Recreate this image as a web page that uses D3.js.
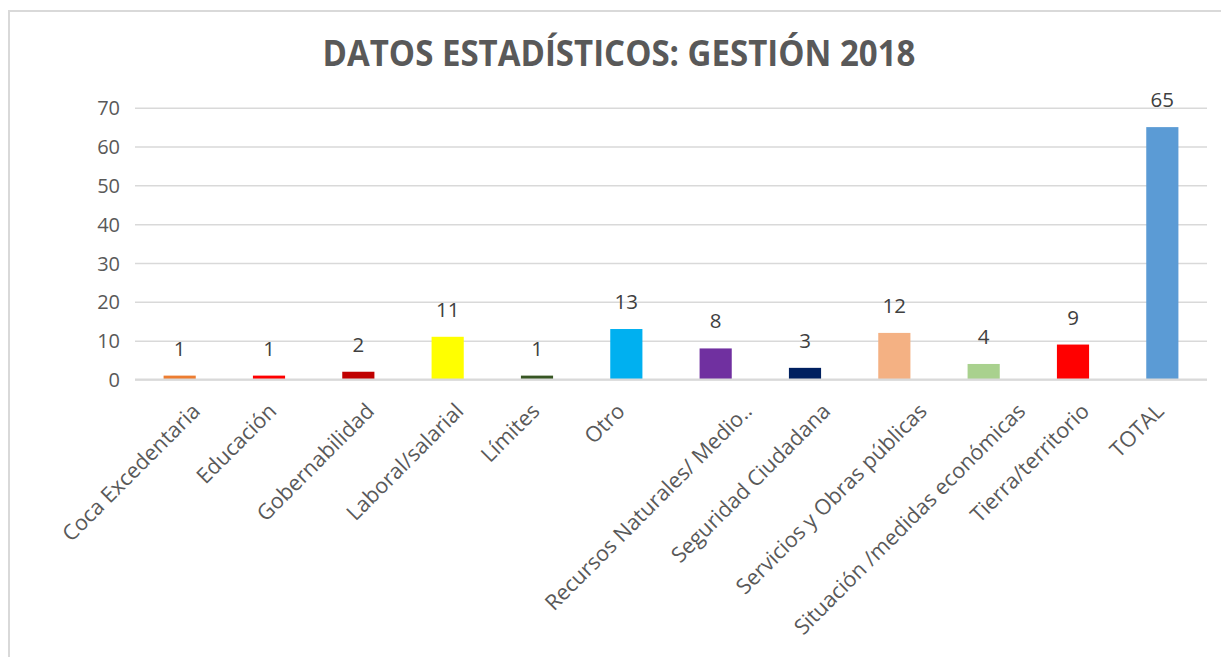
<!DOCTYPE html>
<html><head><meta charset="utf-8">
<script src="https://cdn.jsdelivr.net/npm/d3@7"></script>
<style>
html,body{margin:0;padding:0;background:#fff;}
svg{display:block;}
</style></head>
<body>
<svg id="chart" width="1221" height="657"></svg>
<script>
const categories = ["Coca Excedentaria","Educación","Gobernabilidad","Laboral/salarial","Límites","Otro","Recursos Naturales/ Medio..","Seguridad Ciudadana","Servicios y Obras públicas","Situación /medidas económicas","Tierra/territorio","TOTAL"];
const values = [1,1,2,11,1,13,8,3,12,4,9,65];
const barColors = ["#ED7D31","#FF0000","#C00000","#FFFF00","#375623","#00B0F0","#7030A0","#002060","#F4B183","#A9D18E","#FF0000","#5B9BD5"];
const yTicks = [0,10,20,30,40,50,60,70];
const titleText = "DATOS ESTADÍSTICOS: GESTIÓN 2018";

const svg = d3.select("#chart");
const font = "'Open Sans', sans-serif";

// frame
svg.append("path").attr("d","M9,657 L9,11 L1221,11")
  .attr("fill","none").attr("stroke","#d9d9d9").attr("stroke-width",2);

// title
svg.append("text").attr("x",619).attr("y",66).attr("text-anchor","middle")
  .attr("font-family",font).attr("font-weight","bold").attr("font-size",35)
  .attr("fill","#595959").attr("textLength",593).attr("lengthAdjust","spacingAndGlyphs")
  .text(titleText);

const x = d3.scaleBand().domain(categories).range([135,1207]).paddingInner(0.64).paddingOuter(0.32);
const y = d3.scaleLinear().domain([0,70]).range([379.5,107.7]);

// gridlines
const grid = svg.append("g")
  .call(d3.axisLeft(y).tickValues(yTicks).tickSize(-(1207-135)).tickFormat(""))
  .attr("transform","translate(135,0)");
grid.select(".domain").remove();
grid.selectAll("line").attr("stroke","#d9d9d9").attr("stroke-width",1.5);

// y labels
const yAxis = svg.append("g").attr("transform","translate(120,0)")
  .call(d3.axisLeft(y).tickValues(yTicks).tickSize(0).tickPadding(0));
yAxis.select(".domain").remove();
yAxis.selectAll("text").attr("font-family",font).attr("font-size",20).attr("fill","#595959").attr("dy","0.35em");

// bars
svg.append("g").selectAll("rect").data(values).join("rect")
  .attr("x",(d,i)=>x(categories[i]))
  .attr("width",x.bandwidth())
  .attr("y",d=>y(d))
  .attr("height",d=>y(0)-y(d))
  .attr("fill",(d,i)=>barColors[i]);

// baseline
svg.append("line").attr("x1",135).attr("x2",1207).attr("y1",y(0)).attr("y2",y(0))
  .attr("stroke","#d9d9d9").attr("stroke-width",2);

// data labels
svg.append("g").selectAll("text").data(values).join("text")
  .attr("x",(d,i)=>x(categories[i])+x.bandwidth()/2)
  .attr("y",d=>y(d)-20)
  .attr("text-anchor","middle")
  .attr("font-family",font).attr("font-size",20.5).attr("fill","#404040")
  .text(d=>d);

// category labels
const xAxis = svg.append("g").attr("transform",`translate(0,${y(0)})`)
  .call(d3.axisBottom(x).tickSize(0).tickPadding(0));
xAxis.select(".domain").remove();
xAxis.selectAll("text")
  .attr("font-family",font).attr("font-size",21.5).attr("fill","#595959")
  .attr("text-anchor","end").attr("dy",0).attr("y",0)
  .each(function(){
    const L = this.getComputedTextLength();
    const k = 0.16*L - 7.6;
    d3.select(this).attr("transform",`translate(${k},33) rotate(-45)`);
  });
</script>
</body></html>
